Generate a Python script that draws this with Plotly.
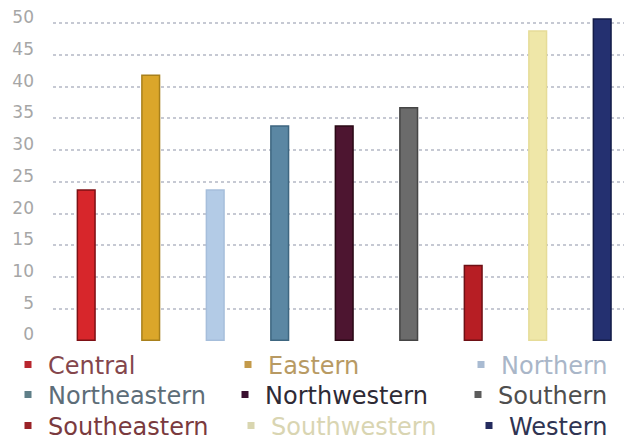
import plotly.graph_objects as go

regions = ["Central", "Eastern", "Northern", "Northeastern", "Northwestern",
           "Southern", "Southeastern", "Southwestern", "Western"]
values = [23.7, 41.8, 23.7, 33.8, 33.8, 36.7, 11.8, 48.8, 50.7]
y_ticks = [0, 5, 10, 15, 20, 25, 30, 35, 40, 45, 50]

fill_colors = ["#d7262b", "#dba62a", "#b3cbe6", "#5b87a3", "#4d1530",
               "#6b6b6b", "#b71e24", "#efe7a8", "#243070"]
edge_colors = ["#7d1015", "#a8801c", "#a6bedb", "#3e6680", "#2a0814",
               "#454545", "#6e1015", "#e6dc98", "#141c48"]
legend_text_colors = ["#84464c", "#b89a63", "#a9b6c8", "#5d6d78", "#2e2a35",
                      "#4e4e4e", "#7a3a3e", "#d9d5b2", "#2f3452"]
marker_colors = ["#b8262e", "#c39a4a", "#a9bbd2", "#5f7f88", "#3a1030",
                 "#5c5c5c", "#9a2228", "#d9d6b0", "#242b5e"]

# page body adds an 8px offset, so the figure fills the rest of the window
W, H = 624, 433
# legend placement (figure pixels): (x, y_center, anchor)
legend_pos = [
    (0, 357, "left"), (220, 357, "left"), (605, 357, "right"),
    (0, 387, "left"), (217, 387, "left"), (605, 387, "right"),
    (0, 418, "left"), (223, 418, "left"), (605, 418, "right"),
]

fig = go.Figure()
for i, (r, v) in enumerate(zip(regions, values)):
    fig.add_trace(go.Bar(
        x=[r], y=[v], width=0.274, showlegend=False,
        marker=dict(color=fill_colors[i], line=dict(color=edge_colors[i], width=1.5)),
    ))
for i, r in enumerate(regions):
    lg = "legend" if i == 0 else f"legend{i+1}"
    fig.add_trace(go.Scatter(
        x=[None], y=[None], mode="markers", name=r, legend=lg,
        marker=dict(symbol="square", size=7, color=marker_colors[i]),
    ))

layout_legends = {}
for i in range(9):
    key = "legend" if i == 0 else f"legend{i+1}"
    px, py, anc = legend_pos[i]
    layout_legends[key] = dict(
        x=px / W, y=1 - py / H, xref="container", yref="container",
        xanchor=anc, yanchor="middle", orientation="v",
        bgcolor="rgba(0,0,0,0)", borderwidth=0,
        font=dict(family="DejaVu Sans", size=24, color=legend_text_colors[i]),
        itemwidth=30,
    )

fig.update_layout(
    width=W, height=H,
    margin=dict(l=45, r=0, t=0, b=100, autoexpand=False),
    paper_bgcolor="white", plot_bgcolor="white",
    barmode="overlay",
    xaxis=dict(
        type="category", categoryorder="array", categoryarray=regions,
        range=[-0.515, 8.462], showticklabels=False, showgrid=False,
        zeroline=False, showline=False, ticks="",
    ),
    yaxis=dict(
        range=[-0.1, 52.42], tickvals=y_ticks, ticktext=[str(t) for t in y_ticks],
        showgrid=True, gridcolor="#c6c9d3", gridwidth=1.5, griddash="dot",
        zeroline=False, showline=False, ticks="",
        tickfont=dict(family="DejaVu Sans", size=17, color="#a6a6a6"),
        ticklabelstandoff=18, ticklabelshift=-6, ticklabeloverflow="allow",
    ),
    **layout_legends,
)

fig.write_html("out.html")
